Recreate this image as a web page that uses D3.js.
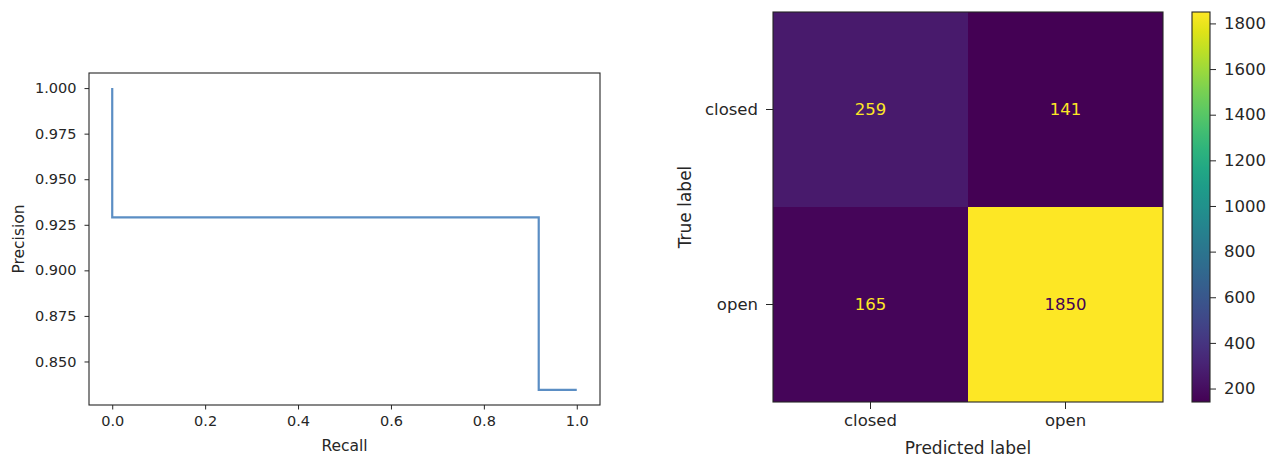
<html><head>
<meta charset="utf-8">
<script src="https://cdn.jsdelivr.net/npm/d3@7/dist/d3.min.js"></script>
<style>
  body { margin: 0; background: #fff; }
  svg text { font-family: "DejaVu Sans", sans-serif; fill: #262626; }
  .axis path, .axis line { stroke: #262626; }
  .left .tick text { font-size: 14.5px; }
  .right .tick text { font-size: 16.5px; }
</style>
</head><body>
<script>
// precision-recall curve points (sklearn order, drawn steps-post)
var recall = [1.0, 0.9181, 0.0];
var precision = [0.8344, 0.9291, 1.0];
var xTicks = [0, 0.2, 0.4, 0.6, 0.8, 1.0];
var yTicks = [0.850, 0.875, 0.900, 0.925, 0.950, 0.975, 1.000];

// confusion matrix
var classes = ["closed", "open"];
var counts = [[259, 141], [165, 1850]];
var barTicks = [200, 400, 600, 800, 1000, 1200, 1400, 1600, 1800];

var svg = d3.select("body").append("svg")
    .attr("width", 1282).attr("height", 458);

// ---- left: precision / recall ----
var L = {left: 89, right: 600, top: 73, bottom: 405};

var pad = 0.05;
var yExt = d3.extent(precision), ySpan = yExt[1] - yExt[0];
var x = d3.scaleLinear().domain([-pad, 1 + pad]).range([L.left, L.right]);
var y = d3.scaleLinear()
    .domain([yExt[0] - pad * ySpan, yExt[1] + pad * ySpan])
    .range([L.bottom, L.top]);

var left = svg.append("g").attr("class", "left");

var pts = recall.map(function(r, i) { return [r, precision[i]]; });
left.append("path")
    .datum(pts)
    .attr("fill", "none")
    .attr("stroke", "#5b8ec4")
    .attr("stroke-width", 2.2)
    .attr("d", d3.line()
        .x(function(d) { return x(d[0]); })
        .y(function(d) { return y(d[1]); })
        .curve(d3.curveStepAfter));

left.append("g").attr("class", "axis")
    .attr("transform", "translate(0," + L.bottom + ")")
    .call(d3.axisBottom(x).tickValues(xTicks).tickFormat(d3.format(".1f"))
        .tickSize(4.5).tickPadding(6.5).tickSizeOuter(0))
    .call(function(g) { g.select(".domain").remove(); });

left.append("g").attr("class", "axis")
    .attr("transform", "translate(" + L.left + ",0)")
    .call(d3.axisLeft(y).tickValues(yTicks).tickFormat(d3.format(".3f"))
        .tickSize(4.5).tickPadding(8).tickSizeOuter(0))
    .call(function(g) { g.select(".domain").remove(); });

left.append("rect")
    .attr("x", L.left).attr("y", L.top)
    .attr("width", L.right - L.left).attr("height", L.bottom - L.top)
    .attr("fill", "none").attr("stroke", "#262626").attr("stroke-width", 1.1);

left.append("text")
    .attr("x", (L.left + L.right) / 2).attr("y", 451)
    .attr("text-anchor", "middle").style("font-size", "15.5px")
    .text("Recall");

left.append("text")
    .attr("transform", "translate(24," + (L.top + L.bottom) / 2 + ") rotate(-90)")
    .attr("text-anchor", "middle").style("font-size", "15.5px")
    .text("Precision");

// ---- right: confusion matrix ----
var R = {left: 773, right: 1163, top: 12, bottom: 402};
var flat = d3.merge(counts);
var vmin = d3.min(flat), vmax = d3.max(flat);

var cx = d3.scaleBand().domain(classes).range([R.left, R.right]);
var cy = d3.scaleBand().domain(classes).range([R.top, R.bottom]);
var color = d3.scaleSequential(d3.interpolateViridis).domain([vmin, vmax]);

var right = svg.append("g").attr("class", "right");

var cells = [];
counts.forEach(function(row, i) {
    row.forEach(function(v, j) {
        cells.push({t: classes[i], p: classes[j], v: v});
    });
});

right.selectAll("rect.cell").data(cells).enter().append("rect")
    .attr("class", "cell")
    .attr("x", function(d) { return cx(d.p); })
    .attr("y", function(d) { return cy(d.t); })
    .attr("width", cx.bandwidth()).attr("height", cy.bandwidth())
    .attr("fill", function(d) { return color(d.v); });

// dark text on bright cells, bright text on dark ones
var thresh = (vmin + vmax) / 2;
right.selectAll("text.val").data(cells).enter().append("text")
    .attr("class", "val")
    .attr("x", function(d) { return cx(d.p) + cx.bandwidth() / 2; })
    .attr("y", function(d) { return cy(d.t) + cy.bandwidth() / 2; })
    .attr("dy", "0.36em")
    .attr("text-anchor", "middle")
    .style("font-size", "16.5px")
    .style("fill", function(d) { return d.v > thresh ? color(vmin) : color(vmax); })
    .text(function(d) { return d.v; });

right.append("g").attr("class", "axis")
    .attr("transform", "translate(0," + R.bottom + ")")
    .call(d3.axisBottom(cx).tickSize(7).tickPadding(5).tickSizeOuter(0))
    .call(function(g) { g.select(".domain").remove(); });

right.append("g").attr("class", "axis")
    .attr("transform", "translate(" + R.left + ",0)")
    .call(d3.axisLeft(cy).tickSize(7).tickPadding(8).tickSizeOuter(0))
    .call(function(g) { g.select(".domain").remove(); });

right.append("rect")
    .attr("x", R.left).attr("y", R.top)
    .attr("width", R.right - R.left).attr("height", R.bottom - R.top)
    .attr("fill", "none").attr("stroke", "#262626").attr("stroke-width", 1.1);

right.append("text")
    .attr("x", (R.left + R.right) / 2).attr("y", 454)
    .attr("text-anchor", "middle").style("font-size", "17px")
    .text("Predicted label");

right.append("text")
    .attr("transform", "translate(691," + (R.top + R.bottom) / 2 + ") rotate(-90)")
    .attr("text-anchor", "middle").style("font-size", "17px")
    .text("True label");

// colorbar
var CB = {left: 1192, right: 1210};
var cb = d3.scaleLinear().domain([vmin, vmax]).range([R.bottom, R.top]);

var grad = svg.append("defs").append("linearGradient")
    .attr("id", "viridis").attr("x1", 0).attr("y1", 1).attr("x2", 0).attr("y2", 0);
d3.range(0, 1.0001, 0.05).forEach(function(t) {
    grad.append("stop").attr("offset", t).attr("stop-color", d3.interpolateViridis(t));
});

right.append("rect")
    .attr("x", CB.left).attr("y", R.top)
    .attr("width", CB.right - CB.left).attr("height", R.bottom - R.top)
    .attr("fill", "url(#viridis)")
    .attr("stroke", "#262626").attr("stroke-width", 1.1);

right.append("g").attr("class", "axis")
    .attr("transform", "translate(" + CB.right + ",0)")
    .call(d3.axisRight(cb).tickValues(barTicks).tickFormat(d3.format("d"))
        .tickSize(6).tickPadding(8).tickSizeOuter(0))
    .call(function(g) { g.select(".domain").remove(); });
</script>
</body></html>
